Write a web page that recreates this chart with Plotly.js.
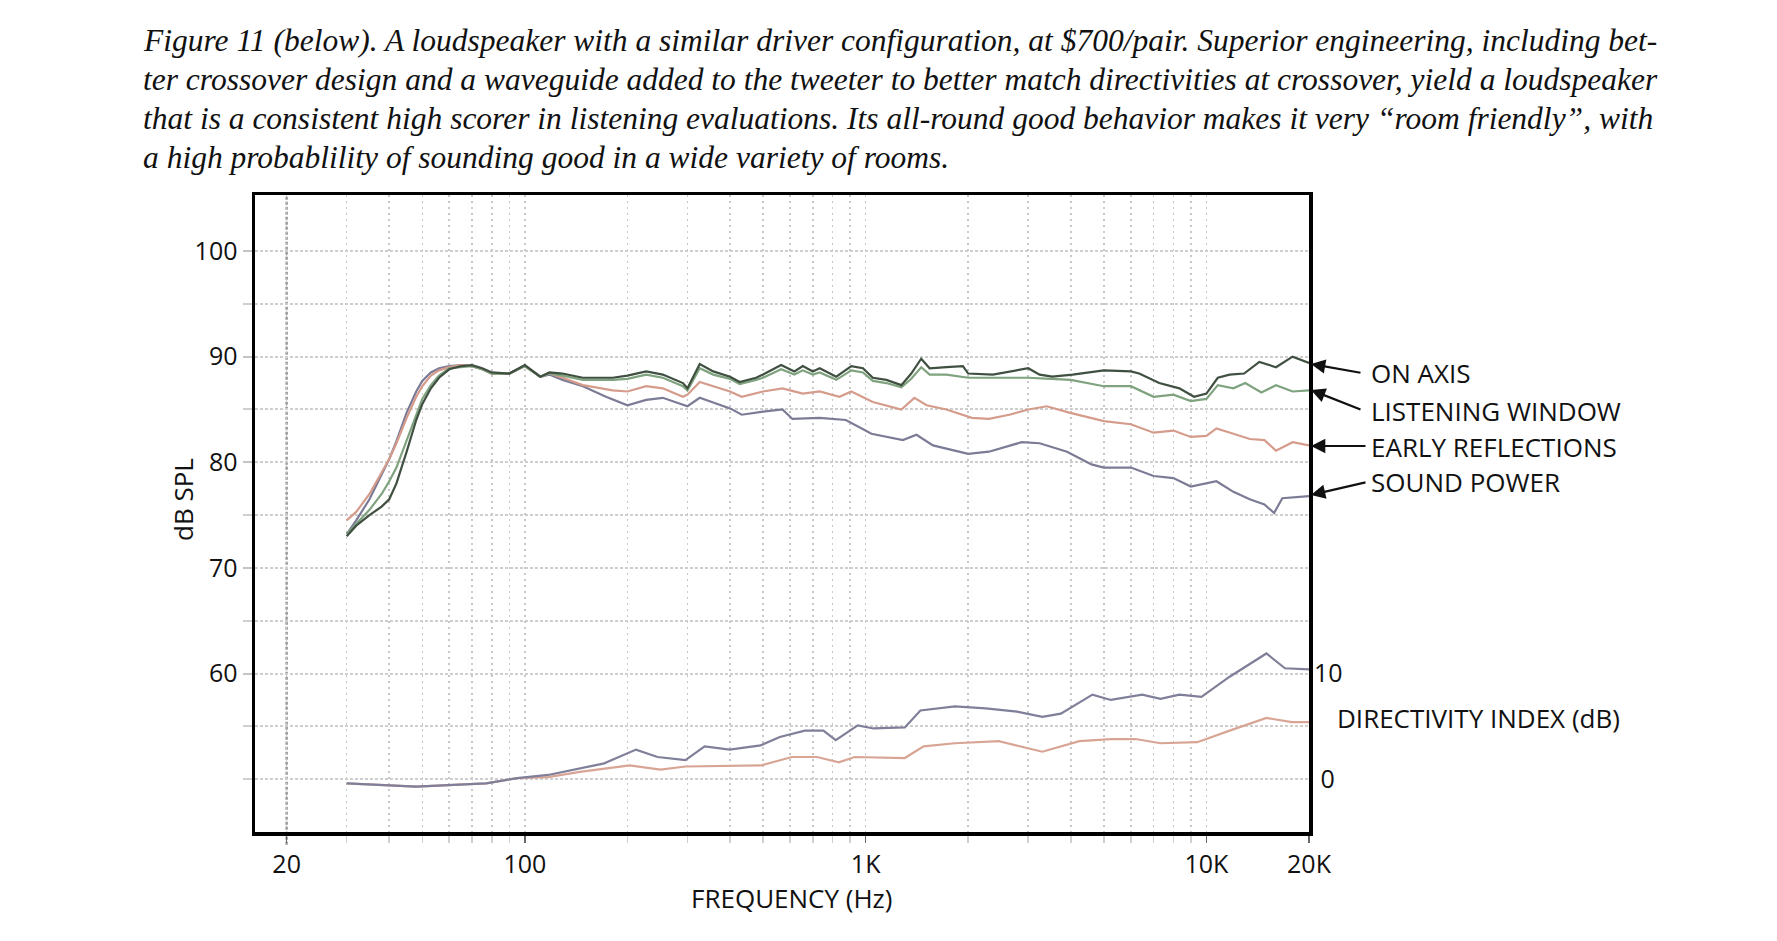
<!DOCTYPE html>
<html>
<head>
<meta charset="utf-8">
<script src="https://cdn.plot.ly/plotly-3.0.1.min.js"></script>
<style>html,body{margin:0;padding:0;background:#fff;}#chart{width:1777px;height:941px;}</style>
</head>
<body>
<div id="chart"></div>
<script>
// ---------- data ----------
const captionLines = [
  "Figure 11 (below). A loudspeaker with a similar driver configuration, at $700/pair. Superior engineering, including bet-",
  "ter crossover design and a waveguide added to the tweeter to better match directivities at crossover, yield a loudspeaker",
  "that is a consistent high scorer in listening evaluations. Its all-round good behavior makes it very \u201croom friendly\u201d, with",
  "a high probablility of sounding good in a wide variety of rooms."
];

const freqTickVals = [20, 100, 1000, 10000, 20000];
const freqTickText = ["20", "100", "1K", "10K", "20K"];
const splTickVals = [60, 70, 80, 90, 100];
const diTickVals = [0, 10];
const diTickText = ["&nbsp;0", "10"];
const refLineFreq = 20;

const seriesNames = ["ON AXIS", "LISTENING WINDOW", "EARLY REFLECTIONS", "SOUND POWER"];

const freqOn = [30,32,35,38,40,42,45,48,50,53,56,60,65,70,75,80,90,100,111,118,129,148,181,200,227,254,291,300,326,357,400,427,477,500,565,618,654,700,733,820,908,982,1050,1150,1273,1361,1456,1541,1726,1929,2000,2362,3000,3240,3530,4050,5000,6000,6350,7270,8330,9200,10000,10800,11700,12900,14300,16000,17900,20000];
const onAxis = [73.0,74.0,75.0,75.8,76.5,78.0,81.0,84.0,85.5,87.0,88.0,88.8,89.1,89.2,88.9,88.5,88.4,89.2,88.1,88.5,88.4,88.0,88.0,88.2,88.6,88.3,87.5,87.0,89.3,88.6,88.1,87.6,88.0,88.3,89.2,88.6,89.1,88.6,88.9,88.1,89.1,88.9,88.0,87.8,87.3,88.4,89.8,88.9,89.0,89.1,88.4,88.3,88.9,88.3,88.1,88.3,88.7,88.6,88.4,87.5,87.0,86.2,86.5,88.0,88.3,88.4,89.5,89.0,90.0,89.4];

const freqLw = [30,32,35,38,40,42,45,48,50,53,56,60,65,70,75,80,90,100,111,118,129,148,181,200,227,254,291,300,326,357,400,427,477,500,565,618,654,700,733,820,908,982,1050,1150,1273,1361,1456,1541,1726,2000,2500,3000,3500,4000,5000,6000,7000,8000,9000,10000,10800,12000,13000,14500,16000,17900,20000];
const listeningWindow = [73.2,74.2,75.5,77.0,78.2,79.5,82.0,84.5,86.0,87.3,88.2,88.9,89.0,89.1,88.8,88.4,88.4,89.1,88.1,88.4,88.2,87.8,87.8,87.9,88.3,88.0,87.2,86.8,88.9,88.3,87.9,87.4,87.8,88.0,88.8,88.3,88.7,88.3,88.5,87.8,88.7,88.5,87.7,87.5,87.1,87.9,89.0,88.3,88.3,88.0,88.0,88.0,87.9,87.8,87.2,87.2,86.2,86.4,85.8,86.0,87.3,87.0,87.5,86.6,87.3,86.7,86.8];

const freqEr = [30,32,35,38,40,42,45,48,50,53,56,60,65,70,75,80,90,100,111,118,129,148,181,200,227,254,291,300,326,400,433,500,570,654,733,838,908,1050,1170,1273,1390,1510,1726,2050,2300,2640,3000,3400,3960,5000,6000,7000,8000,9000,10000,10700,12000,13400,14800,16000,17900,20000];
const earlyReflections = [74.5,75.3,77.0,79.0,80.3,81.8,84.2,86.2,87.2,88.2,88.7,89.0,89.2,89.1,88.8,88.4,88.4,89.1,88.1,88.4,88.0,87.3,86.8,86.7,87.2,87.0,86.2,86.4,87.6,86.7,86.2,86.7,87.0,86.5,86.7,86.2,86.7,85.7,85.3,85.0,86.1,85.4,85.0,84.2,84.1,84.5,85.0,85.3,84.7,83.9,83.6,82.8,83.0,82.4,82.5,83.2,82.7,82.2,82.1,81.1,81.9,81.6];

const freqSp = [30,32,35,38,40,42,45,48,50,53,56,60,65,70,75,80,90,100,111,118,129,148,173,200,227,254,291,300,326,400,433,500,570,610,733,875,1040,1286,1410,1576,2000,2300,2870,3240,3900,4600,5000,6000,7000,8000,9000,10700,12000,13400,14800,15800,16700,20000];
const soundPower = [73.2,74.5,76.5,78.8,80.3,82.0,84.7,86.7,87.7,88.5,88.9,89.1,89.2,89.1,88.8,88.4,88.4,89.1,88.1,88.3,87.8,87.2,86.2,85.4,85.9,86.1,85.4,85.3,86.1,85.1,84.5,84.8,85.0,84.1,84.2,84.0,82.7,82.1,82.6,81.6,80.8,81.0,81.9,81.8,81.0,79.8,79.5,79.5,78.7,78.5,77.7,78.2,77.2,76.5,76.0,75.2,76.6,76.8];

const freqDiSp = [30,48,77,95,117,145,171,212,245,296,337,399,492,560,663,752,817,948,1055,1303,1448,1828,2250,2780,3300,3740,4630,5240,6480,7330,8330,9670,11700,15000,17000,20000];
const diSoundPower = [-0.4,-0.7,-0.4,0.1,0.4,1.0,1.5,2.8,2.1,1.8,3.1,2.8,3.2,4.0,4.6,4.6,3.7,5.1,4.8,4.9,6.5,6.9,6.7,6.4,5.9,6.2,8.0,7.5,8.0,7.6,8.0,7.8,9.7,11.9,10.5,10.4];

const freqDiEr = [30,48,77,95,117,145,203,250,296,399,492,608,720,834,929,1303,1480,1828,2460,3300,4240,5240,6200,7330,9400,11700,15000,17800,20000];
const diEarlyReflections = [-0.4,-0.7,-0.4,0.1,0.2,0.7,1.3,0.9,1.2,1.3,1.3,2.1,2.1,1.6,2.1,2.0,3.1,3.4,3.6,2.6,3.6,3.8,3.8,3.4,3.5,4.6,5.8,5.4,5.4];

// ---------- styling ----------
const colOn = "#3f4f40", colLw = "#7fa27f", colEr = "#d59c8c", colSp = "#7b7b96";
const sansFont = "Open Sans, Noto Sans, sans-serif";
const serifFont = "Liberation Serif, DejaVu Serif, serif";

function lineTrace(x, y, color, name, axis) {
  return {x: x, y: y, type: "scatter", mode: "lines", name: name, yaxis: axis || "y",
          line: {color: color, width: 2.2}, hoverinfo: "x+y"};
}

const traces = [
  lineTrace(freqSp, soundPower, colSp, seriesNames[3]),
  lineTrace(freqEr, earlyReflections, colEr, seriesNames[2]),
  lineTrace(freqLw, listeningWindow, colLw, seriesNames[1]),
  lineTrace(freqOn, onAxis, colOn, seriesNames[0]),
  lineTrace(freqDiEr, diEarlyReflections, "#d8a595", "ER DI", "y2"),
  lineTrace(freqDiSp, diSoundPower, "#7f7f99", "SP DI", "y2")
];

// minor grid positions for the log axis (every 1..9 x decade)
const minorFreqs = [];
[10, 100, 1000].forEach(d => { for (let k = 2; k <= 9; k++) { const v = k * d; if (v > 20 && freqTickVals.indexOf(v) < 0) minorFreqs.push(v); } });
const minorSpl = [50, 55, 65, 75, 85, 95];

const W = 1777, H = 941;
const L = 255, R = 1309, T = 195, B = 832;
const px = X => (X - L) / (R - L);
const py = Y => (B - Y) / (B - T);
const txtFont = {family: sansFont, size: 26, color: "#111"};

const annotations = [
  {text: "dB SPL", xref: "paper", yref: "paper", x: px(183), y: py(500), xanchor: "center", yanchor: "middle",
   textangle: -90, showarrow: false, font: txtFont},
  {text: "FREQUENCY (Hz)", xref: "paper", yref: "paper", x: px(791), y: py(898), xanchor: "center", yanchor: "middle",
   showarrow: false, font: txtFont},
  {text: "DIRECTIVITY INDEX (dB)", xref: "paper", yref: "paper", x: px(1335), y: py(718), xanchor: "left", yanchor: "middle",
   showarrow: false, font: txtFont}
];
const captionY = [40, 79.5, 118.5, 158];
captionLines.forEach((s, i) => {
  annotations.push({text: "<i>" + s + "</i>", xref: "paper", yref: "paper", x: px(141), y: py(captionY[i]),
    xanchor: "left", yanchor: "middle", showarrow: false,
    font: {family: serifFont, size: 31.5, color: "#111"}});
});
const labelY = [373, 410.5, 446.5, 481.5];
const headY = [364, 390, 446, 495];
const tailOff = [[51, 9], [51, 20], [56, 0], [56, -13]];
seriesNames.forEach((n, i) => {
  annotations.push({text: n, xref: "paper", yref: "paper", x: px(1369), y: py(labelY[i]), xanchor: "left", yanchor: "middle",
    showarrow: false, font: txtFont});
  annotations.push({text: " ", xref: "paper", yref: "paper", x: px(1311), y: py(headY[i]),
    showarrow: true, ax: tailOff[i][0], ay: tailOff[i][1], arrowhead: 2, arrowsize: 1.3, arrowwidth: 2.2,
    arrowcolor: "#111", standoff: 0, startstandoff: 0, font: {size: 1}});
});

const layout = {
  width: W, height: H,
  margin: {l: L, r: W - R, t: T, b: H - B, pad: 0},
  paper_bgcolor: "#fff", plot_bgcolor: "#fff",
  showlegend: false,
  xaxis: {
    type: "log", range: [Math.log10(16.15), Math.log10(20000)],
    tickvals: freqTickVals, ticktext: freqTickText,
    ticks: "outside", ticklen: 7, tickcolor: "#666", tickwidth: 1.5, ticklabelstandoff: 0,
    tickfont: {family: sansFont, size: 25, color: "#111"},
    showgrid: true, gridcolor: "#c8c8c8", gridwidth: 1.5, griddash: "2px,4px",
    minor: {tickvals: minorFreqs, ticks: "outside", ticklen: 7, tickcolor: "#d0d0d0", tickwidth: 1.5,
            showgrid: true, gridcolor: "#c8c8c8", gridwidth: 1.5, griddash: "2px,4px"},
    showline: true, mirror: true, linecolor: "#000", linewidth: 3.5, zeroline: false, fixedrange: true
  },
  yaxis: {
    range: [45, 105.3], tickvals: splTickVals,
    ticks: "outside", ticklen: 9, tickcolor: "#c4c4c4", tickwidth: 2, ticklabelstandoff: 0,
    tickfont: {family: sansFont, size: 25, color: "#111"},
    showgrid: true, gridcolor: "#cecece", gridwidth: 2, griddash: "3px,2px",
    minor: {tickvals: minorSpl, ticks: "outside", ticklen: 9, tickcolor: "#cfcfcf", tickwidth: 2,
            showgrid: true, gridcolor: "#cecece", gridwidth: 2, griddash: "3px,2px"},
    showline: true, mirror: true, linecolor: "#000", linewidth: 3.5, zeroline: false, fixedrange: true
  },
  yaxis2: {
    overlaying: "y", side: "right", range: [-5, 55.3], tickvals: diTickVals, ticktext: diTickText,
    ticks: "", ticklabelstandoff: 4, showgrid: false, zeroline: false, showline: false,
    tickfont: {family: sansFont, size: 25, color: "#111"}, fixedrange: true
  },
  shapes: [
    {type: "line", xref: "x", yref: "paper", x0: refLineFreq, x1: refLineFreq, y0: -0.02, y1: 1, layer: "below",
     line: {color: "#9c9c9c", width: 2.5, dash: "3px,2px"}}
  ],
  annotations: annotations
};

Plotly.newPlot("chart", traces, layout, {staticPlot: true, displayModeBar: false});
</script>
</body>
</html>
